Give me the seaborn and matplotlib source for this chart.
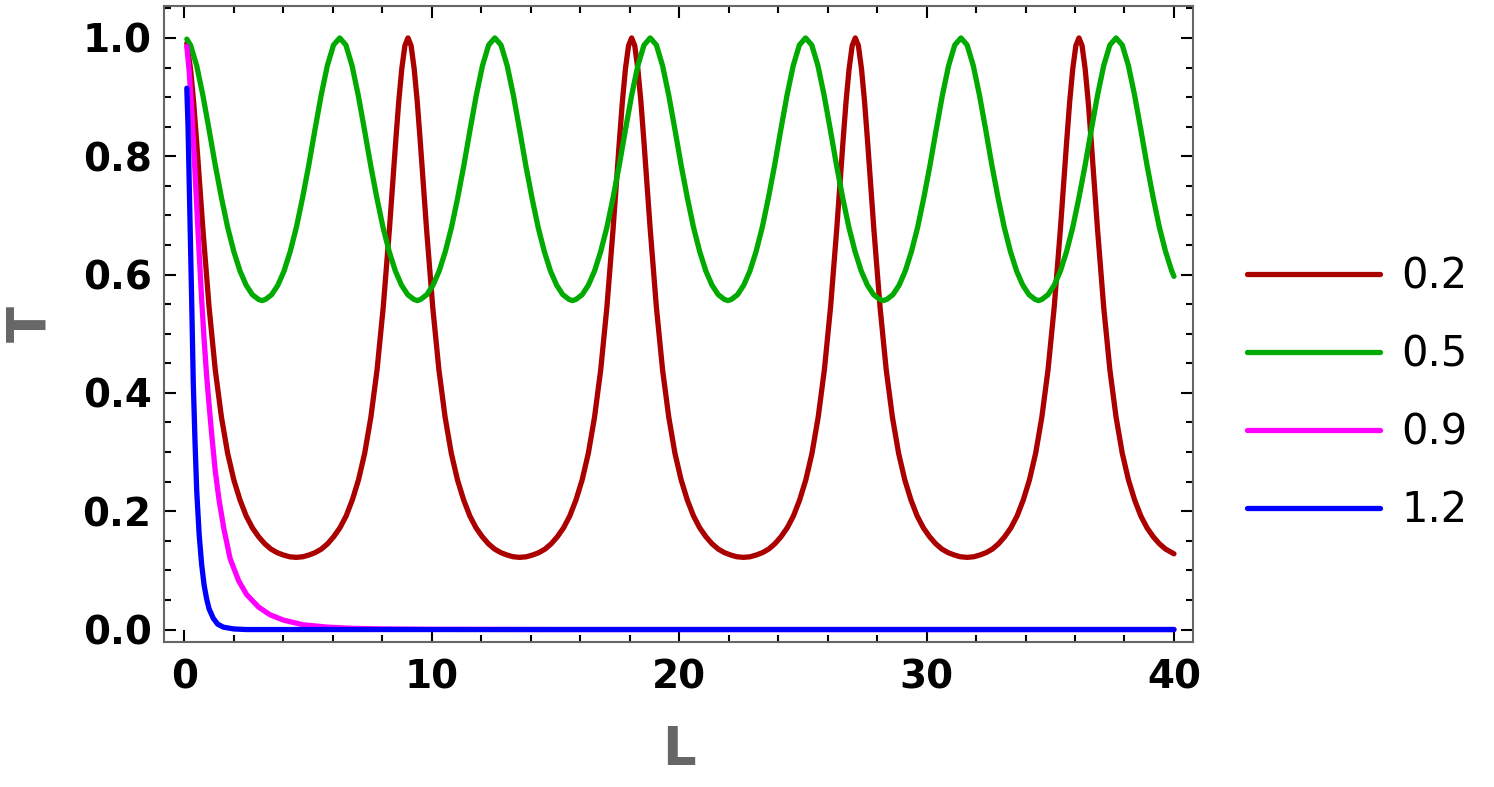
import pandas as pd
import matplotlib
matplotlib.use("Agg")
import matplotlib.pyplot as plt
from matplotlib.ticker import MultipleLocator, FormatStrFormatter
import seaborn as sns

# values
labels = ["0.2", "0.5", "0.9", "1.2"]
colors = ["#aa0000", "#00aa00", "#ff00ff", "#0000ff"]

L_red = [0.1, 0.25, 0.375, 0.5, 0.75, 1.0, 1.25, 1.5, 1.75, 2.0, 2.25, 2.5, 2.75, 3.0, 3.25, 3.5, 3.75, 4.0, 4.25, 4.52,
         4.79, 5.04, 5.29, 5.54, 5.79, 6.04, 6.29, 6.54, 6.79, 7.04, 7.29, 7.54, 7.79, 8.04, 8.29, 8.54, 8.665, 8.79, 8.915, 9.04,
         9.165, 9.29, 9.415, 9.54, 9.79, 10.04, 10.29, 10.54, 10.79, 11.04, 11.29, 11.54, 11.79, 12.04, 12.29, 12.54, 12.79, 13.04, 13.29, 13.56,
         13.83, 14.08, 14.33, 14.58, 14.83, 15.08, 15.33, 15.58, 15.83, 16.08, 16.33, 16.58, 16.83, 17.08, 17.33, 17.58, 17.705, 17.83, 17.955, 18.08,
         18.205, 18.33, 18.455, 18.58, 18.83, 19.08, 19.33, 19.58, 19.83, 20.08, 20.33, 20.58, 20.83, 21.08, 21.33, 21.58, 21.83, 22.08, 22.33, 22.60,
         22.87, 23.12, 23.37, 23.62, 23.87, 24.12, 24.37, 24.62, 24.87, 25.12, 25.37, 25.62, 25.87, 26.12, 26.37, 26.62, 26.745, 26.87, 26.995, 27.12,
         27.245, 27.37, 27.495, 27.62, 27.87, 28.12, 28.37, 28.62, 28.87, 29.12, 29.37, 29.62, 29.87, 30.12, 30.37, 30.62, 30.87, 31.12, 31.37, 31.64,
         31.91, 32.16, 32.41, 32.66, 32.91, 33.16, 33.41, 33.66, 33.91, 34.16, 34.41, 34.66, 34.91, 35.16, 35.41, 35.66, 35.785, 35.91, 36.035, 36.16,
         36.285, 36.41, 36.535, 36.66, 36.91, 37.16, 37.41, 37.66, 37.91, 38.16, 38.41, 38.66, 38.91, 39.16, 39.41, 39.66, 39.91, 40.0]
T_red = [0.991, 0.948, 0.892, 0.823, 0.677, 0.545, 0.439, 0.359, 0.298, 0.253, 0.219, 0.192, 0.172, 0.157, 0.145, 0.136, 0.130, 0.126, 0.123, 0.122,
         0.123, 0.126, 0.130, 0.136, 0.145, 0.157, 0.172, 0.192, 0.219, 0.253, 0.298, 0.359, 0.439, 0.545, 0.677, 0.823, 0.892, 0.948, 0.987, 1.0,
         0.987, 0.948, 0.892, 0.823, 0.677, 0.545, 0.439, 0.359, 0.298, 0.253, 0.219, 0.192, 0.172, 0.157, 0.145, 0.136, 0.130, 0.126, 0.123, 0.122,
         0.123, 0.126, 0.130, 0.136, 0.145, 0.157, 0.172, 0.192, 0.219, 0.253, 0.298, 0.359, 0.439, 0.545, 0.677, 0.823, 0.892, 0.948, 0.987, 1.0,
         0.987, 0.948, 0.892, 0.823, 0.677, 0.545, 0.439, 0.359, 0.298, 0.253, 0.219, 0.192, 0.172, 0.157, 0.145, 0.136, 0.130, 0.126, 0.123, 0.122,
         0.123, 0.126, 0.130, 0.136, 0.145, 0.157, 0.172, 0.192, 0.219, 0.253, 0.298, 0.359, 0.439, 0.545, 0.677, 0.823, 0.892, 0.948, 0.987, 1.0,
         0.987, 0.948, 0.892, 0.823, 0.677, 0.545, 0.439, 0.359, 0.298, 0.253, 0.219, 0.192, 0.172, 0.157, 0.145, 0.136, 0.130, 0.126, 0.123, 0.122,
         0.123, 0.126, 0.130, 0.136, 0.145, 0.157, 0.172, 0.192, 0.219, 0.253, 0.298, 0.359, 0.439, 0.545, 0.677, 0.823, 0.892, 0.948, 0.987, 1.0,
         0.987, 0.948, 0.892, 0.823, 0.677, 0.545, 0.439, 0.359, 0.298, 0.253, 0.219, 0.192, 0.172, 0.157, 0.145, 0.136, 0.130, 0.128]

L_green = [0.1,
           0.25, 0.5, 0.75, 1.0, 1.25, 1.5, 1.75, 2.0, 2.25, 2.5, 2.75, 3.0, 3.14,
           3.28, 3.53, 3.78, 4.03, 4.28, 4.53, 4.78, 5.03, 5.28, 5.53, 5.78, 6.03, 6.28,
           6.53, 6.78, 7.03, 7.28, 7.53, 7.78, 8.03, 8.28, 8.53, 8.78, 9.03, 9.28, 9.42,
           9.55, 9.80, 10.05, 10.30, 10.55, 10.80, 11.05, 11.30, 11.55, 11.80, 12.05, 12.30, 12.55,
           12.80, 13.05, 13.30, 13.55, 13.80, 14.05, 14.30, 14.55, 14.80, 15.05, 15.30, 15.55, 15.69,
           15.83, 16.08, 16.33, 16.58, 16.83, 17.08, 17.33, 17.58, 17.83, 18.08, 18.33, 18.58, 18.83,
           19.08, 19.33, 19.58, 19.83, 20.08, 20.33, 20.58, 20.83, 21.08, 21.33, 21.58, 21.83, 21.97,
           22.11, 22.36, 22.61, 22.86, 23.11, 23.36, 23.61, 23.86, 24.11, 24.36, 24.61, 24.86, 25.11,
           25.36, 25.61, 25.86, 26.11, 26.36, 26.61, 26.86, 27.11, 27.36, 27.61, 27.86, 28.11, 28.25,
           28.39, 28.64, 28.89, 29.14, 29.39, 29.64, 29.89, 30.14, 30.39, 30.64, 30.89, 31.14, 31.39,
           31.64, 31.89, 32.14, 32.39, 32.64, 32.89, 33.14, 33.39, 33.64, 33.89, 34.14, 34.39, 34.53,
           34.66, 34.91, 35.16, 35.41, 35.66, 35.91, 36.16, 36.41, 36.66, 36.91, 37.16, 37.41, 37.66,
           37.91, 38.16, 38.41, 38.66, 38.91, 39.16, 39.41, 39.66, 39.91, 40.0]
T_green = [0.998,
           0.988, 0.953, 0.903, 0.845, 0.785, 0.730, 0.680, 0.639, 0.606, 0.582, 0.566, 0.558, 0.556,
           0.558, 0.566, 0.582, 0.606, 0.639, 0.680, 0.730, 0.785, 0.845, 0.903, 0.953, 0.988, 1.0,
           0.988, 0.953, 0.903, 0.845, 0.785, 0.730, 0.680, 0.639, 0.606, 0.582, 0.566, 0.558, 0.556,
           0.558, 0.566, 0.582, 0.606, 0.639, 0.680, 0.730, 0.785, 0.845, 0.903, 0.953, 0.988, 1.0,
           0.988, 0.953, 0.903, 0.845, 0.785, 0.730, 0.680, 0.639, 0.606, 0.582, 0.566, 0.558, 0.556,
           0.558, 0.566, 0.582, 0.606, 0.639, 0.680, 0.730, 0.785, 0.845, 0.903, 0.953, 0.988, 1.0,
           0.988, 0.953, 0.903, 0.845, 0.785, 0.730, 0.680, 0.639, 0.606, 0.582, 0.566, 0.558, 0.556,
           0.558, 0.566, 0.582, 0.606, 0.639, 0.680, 0.730, 0.785, 0.845, 0.903, 0.953, 0.988, 1.0,
           0.988, 0.953, 0.903, 0.845, 0.785, 0.730, 0.680, 0.639, 0.606, 0.582, 0.566, 0.558, 0.556,
           0.558, 0.566, 0.582, 0.606, 0.639, 0.680, 0.730, 0.785, 0.845, 0.903, 0.953, 0.988, 1.0,
           0.988, 0.953, 0.903, 0.845, 0.785, 0.730, 0.680, 0.639, 0.606, 0.582, 0.566, 0.558, 0.556,
           0.558, 0.566, 0.582, 0.606, 0.639, 0.680, 0.730, 0.785, 0.845, 0.903, 0.953, 0.988, 1.0,
           0.988, 0.953, 0.903, 0.845, 0.785, 0.730, 0.680, 0.639, 0.606, 0.597]

L_magenta = [0.1, 0.2, 0.3, 0.4, 0.5, 0.6, 0.7, 0.8, 0.9, 1.0, 1.1, 1.25, 1.4, 1.6, 1.85, 2.2, 2.52,
             3.0, 3.46, 4.0, 4.8, 5.8, 6.8, 8.0, 10.0, 15.0, 20.0, 30.0, 40.0]
T_magenta = [0.986, 0.942, 0.877, 0.799, 0.717, 0.636, 0.558, 0.490, 0.430, 0.380, 0.333, 0.268, 0.220, 0.170, 0.120, 0.082, 0.059,
             0.038, 0.025, 0.016, 0.008, 0.004, 0.002, 0.001, 0.0003, 0.0, 0.0, 0.0, 0.0]

L_blue = [0.1, 0.15, 0.2, 0.25, 0.3, 0.36, 0.43, 0.5, 0.6, 0.7, 0.8, 0.9, 1.0, 1.17, 1.35, 1.58, 2.0, 2.5, 10.0, 20.0, 30.0, 40.0]
T_blue = [0.915, 0.85, 0.75, 0.65, 0.55, 0.42, 0.32, 0.235, 0.16, 0.11, 0.075, 0.052, 0.035, 0.019, 0.009, 0.004, 0.001, 0.0, 0.0, 0.0, 0.0, 0.0]

frames = []
for lab, xs, ys in zip(labels, [L_red, L_green, L_magenta, L_blue], [T_red, T_green, T_magenta, T_blue]):
    frames.append(pd.DataFrame({"L": xs, "T": ys, "E": lab}))
df = pd.concat(frames, ignore_index=True)

sns.set_style("ticks")
plt.rcParams["font.family"] = ["DejaVu Sans"]

fig = plt.figure(figsize=(14.94, 7.87), dpi=100)
ax = fig.add_axes([0.1098, 0.1843, 0.6889, 0.8081])

sns.lineplot(data=df, x="L", y="T", hue="E", hue_order=labels, palette=colors,
             estimator=None, sort=False, linewidth=3.8, ax=ax)

ax.set_xlim(-0.82, 40.78)
ax.set_ylim(-0.021, 1.054)
ax.xaxis.set_major_locator(MultipleLocator(10))
ax.xaxis.set_minor_locator(MultipleLocator(2))
ax.yaxis.set_major_locator(MultipleLocator(0.2))
ax.yaxis.set_minor_locator(MultipleLocator(0.05))
ax.xaxis.set_major_formatter(FormatStrFormatter("%d"))
ax.yaxis.set_major_formatter(FormatStrFormatter("%.1f"))

ax.tick_params(which="both", direction="in", top=True, right=True, color="black", width=1.5)
ax.tick_params(which="major", length=8.5)
ax.tick_params(which="minor", length=5)
ax.tick_params(axis="x", which="major", labelsize=28, pad=12, labelcolor="black")
ax.tick_params(axis="y", which="major", labelsize=28, pad=9, labelcolor="black")
for t in ax.get_xticklabels() + ax.get_yticklabels():
    t.set_fontweight("bold")
for s in ax.spines.values():
    s.set_color("#666666")
    s.set_linewidth(1.5)

ax.set_xlabel("L", fontsize=38, fontweight="bold", color="#666666", va="center")
ax.set_ylabel("T", fontsize=38, fontweight="bold", color="#666666", va="center")
ax.xaxis.set_label_coords(0.5, -0.17)
ax.yaxis.set_label_coords(-0.130, 0.5)

handles, lbls = ax.get_legend_handles_labels()
ax.get_legend().remove()
leg = fig.legend(handles, lbls, loc="center left", bbox_to_anchor=(0.8347, 0.500),
                 frameon=False, fontsize=30, handlelength=3.2, handletextpad=0.5,
                 labelspacing=0.86, borderpad=0, borderaxespad=0, labelcolor="black")
for h in leg.get_lines():
    h.set_linewidth(3.8)

fig.savefig("out.png", dpi=100)
